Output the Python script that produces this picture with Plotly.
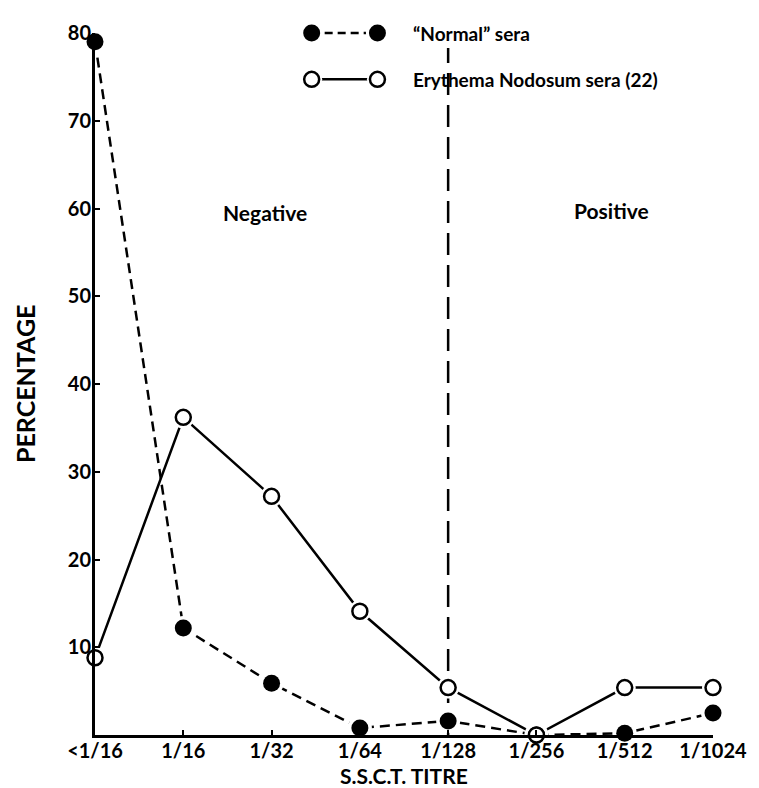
import plotly.graph_objects as go

categories = ["<1/16", "1/16", "1/32", "1/64", "1/128", "1/256", "1/512", "1/1024"]
normal_sera = [79, 12.2, 5.9, 0.8, 1.6, 0, 0.2, 2.5]
en_sera = [8.8, 36.2, 27.2, 14.1, 5.4, 0, 5.4, 5.4]
y_ticks = [10, 20, 30, 40, 50, 60, 70, 80]
cutoff_category = "1/128"

FONT = "Lato"
x_idx = list(range(len(categories)))

FILLED = dict(size=17, color="black", line=dict(color="black", width=0))
OPEN = dict(size=15, color="white", line=dict(color="black", width=2.5))

fig = go.Figure()
# connecting lines
fig.add_trace(go.Scatter(x=x_idx, y=normal_sera, mode="lines",
                         line=dict(color="black", width=2.5, dash="10px,6px"),
                         cliponaxis=False, showlegend=False))
fig.add_trace(go.Scatter(x=x_idx, y=en_sera, mode="lines",
                         line=dict(color="black", width=2.5),
                         cliponaxis=False, showlegend=False))
# white halos (gap between line and marker, as in the original drawing)
fig.add_trace(go.Scatter(x=x_idx, y=normal_sera, mode="markers",
                         marker=dict(size=24, color="white", line=dict(width=0)),
                         cliponaxis=False, showlegend=False, hoverinfo="skip"))
fig.add_trace(go.Scatter(x=x_idx, y=en_sera, mode="markers",
                         marker=dict(size=22, color="white", line=dict(width=0)),
                         cliponaxis=False, showlegend=False, hoverinfo="skip"))
# markers
fig.add_trace(go.Scatter(x=x_idx, y=normal_sera, mode="markers", marker=FILLED,
                         cliponaxis=False, showlegend=False))
fig.add_trace(go.Scatter(x=x_idx, y=en_sera, mode="markers", marker=OPEN,
                         cliponaxis=False, showlegend=False))

cut = categories.index(cutoff_category)
fig.add_shape(type="line", xref="x", yref="y", x0=cut, x1=cut, y0=0, y1=78.3,
              line=dict(color="black", width=2.5, dash="22px,10px"), layer="below")

# legend glyphs (paper coords)
def legend_row(yp, marker, halo, dash, label):
    x0, x1 = 0.3506, 0.457
    fig.add_shape(type="line", xref="paper", yref="paper", x0=x0, x1=x1, y0=yp, y1=yp,
                  line=dict(color="black", width=2.5, dash=dash), layer="below")
    fig.add_trace(go.Scatter(x=[x0, x1], y=[yp, yp], xaxis="x2", yaxis="y2", mode="markers",
                             marker=dict(size=halo, color="white", line=dict(width=0)),
                             cliponaxis=False, showlegend=False, hoverinfo="skip"))
    fig.add_trace(go.Scatter(x=[x0, x1], y=[yp, yp], xaxis="x2", yaxis="y2", mode="markers",
                             marker=marker, cliponaxis=False, showlegend=False, hoverinfo="skip"))
    fig.add_annotation(xref="paper", yref="paper", x=0.512, y=yp, text="<b>" + label + "</b>",
                       showarrow=False, xanchor="left", yanchor="middle",
                       font=dict(family=FONT, size=19, color="black"))

legend_row(1.0, FILLED, 23, "8px,5px", "\u201cNormal\u201d sera")
legend_row(0.934, OPEN, 21, "solid", "Erythema Nodosum sera (22)")

fig.add_annotation(xref="x", yref="y", x=1.93, y=59.5, text="<b>Negative</b>", showarrow=False,
                   font=dict(family=FONT, size=21, color="black"))
fig.add_annotation(xref="x", yref="y", x=5.85, y=59.8, text="<b>Positive</b>", showarrow=False,
                   font=dict(family=FONT, size=21, color="black"))

fig.add_annotation(xref="paper", yref="paper", x=0, y=0.5, xshift=-70, textangle=-90,
                   text="<b>PERCENTAGE</b>", showarrow=False, xanchor="center", yanchor="middle",
                   font=dict(family=FONT, size=25, color="black"))
fig.add_annotation(xref="paper", yref="paper", x=0.5, y=0, yshift=-40,
                   text="<b>S.S.C.T. TITRE</b>", showarrow=False, xanchor="center", yanchor="middle",
                   font=dict(family=FONT, size=21, color="black"))

fig.update_layout(
    width=751, height=780,
    margin=dict(l=87, r=45, t=17, b=53),
    paper_bgcolor="white", plot_bgcolor="white",
    font=dict(family=FONT, size=20, color="black"),
    xaxis=dict(range=[0, 7], tickvals=x_idx, ticktext=["<b>%s</b>" % c for c in categories],
               showline=True, linecolor="black", linewidth=3,
               ticks="inside", ticklen=5, tickwidth=2, tickcolor="black",
               ticklabelstandoff=-4,
               showgrid=False, zeroline=False),
    yaxis=dict(range=[0, 80], tickvals=y_ticks, ticktext=["<b>%d</b>" % v for v in y_ticks],
               showline=True, linecolor="black", linewidth=3,
               ticks="inside", ticklen=5, tickwidth=2, tickcolor="black",
               ticklabelstandoff=-3,
               showgrid=False, zeroline=False),
    xaxis2=dict(range=[0, 1], domain=[0, 1], overlaying="x", visible=False, anchor="y2"),
    yaxis2=dict(range=[0, 1], domain=[0, 1], overlaying="y", visible=False, anchor="x2"),
)

fig.write_html("out.html")
